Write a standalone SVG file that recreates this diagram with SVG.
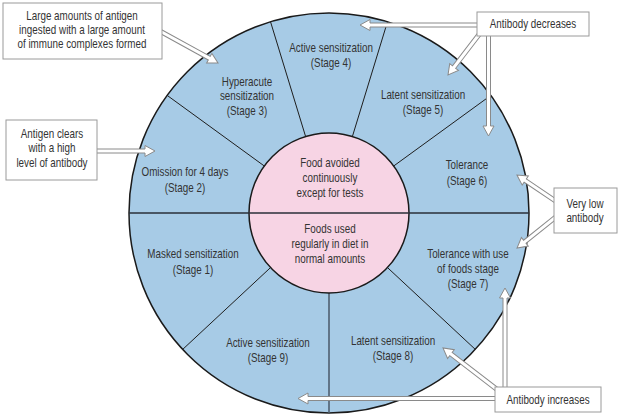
<svg xmlns="http://www.w3.org/2000/svg" width="618" height="414" viewBox="0 0 618 414">
<style>
text{font-family:"Liberation Sans",Arial,sans-serif;font-size:12px;fill:#333;text-anchor:middle}
.spoke{stroke:#1e1e1e;stroke-width:1;fill:none}
.arr{fill:#fff;stroke:#8a8a8a;stroke-width:1}
.box{fill:#fff;stroke:#9a9a9a;stroke-width:1}
</style>
<rect width="618" height="414" fill="#fff"/>
<g id="wheel">
<circle cx="329" cy="213" r="200" fill="#a7cbe6" stroke="#1a1a1a" stroke-width="1.5"/>
<g class="spoke">
<line x1="393.7" y1="166" x2="490.8" y2="95.4"/>
<line x1="264.3" y1="166" x2="167.2" y2="95.4"/>
<line x1="352.4" y1="136.5" x2="387.5" y2="21.7"/>
<line x1="305.6" y1="136.5" x2="270.5" y2="21.7"/>
<line x1="270.5" y1="267.6" x2="182.7" y2="349.4"/>
<line x1="387.5" y1="267.6" x2="475.3" y2="349.4"/>
<line x1="329" y1="293" x2="329" y2="413" stroke="#4a5868" stroke-width="1.5"/>
</g>
<circle cx="329" cy="213" r="80" fill="#f7d4e4" stroke="#1a1a1a" stroke-width="1.5"/>
<line x1="129" y1="213" x2="529" y2="213" stroke="#2a2f38" stroke-width="1.5"/>
</g>
<g id="stage4"><g transform="scale(0.82,1)"><text x="403.7" y="52">Active sensitization</text><text x="403.7" y="67">(Stage 4)</text></g></g>
<g id="stage3"><g transform="scale(0.82,1)"><text x="301.2" y="86">Hyperacute</text><text x="301.2" y="100">sensitization</text><text x="301.2" y="115">(Stage 3)</text></g></g>
<g id="stage5"><g transform="scale(0.82,1)"><text x="515.9" y="99">Latent sensitization</text><text x="515.9" y="114">(Stage 5)</text></g></g>
<g id="stage2"><g transform="scale(0.82,1)"><text x="225.6" y="176">Omission for 4 days</text><text x="225.6" y="192">(Stage 2)</text></g></g>
<g id="stage6"><g transform="scale(0.82,1)"><text x="569.5" y="169">Tolerance</text><text x="569.5" y="185">(Stage 6)</text></g></g>
<g id="avoided"><g transform="scale(0.82,1)"><text x="402.4" y="167">Food avoided</text><text x="402.4" y="182">continuously</text><text x="402.4" y="197">except for tests</text></g></g>
<g id="used"><g transform="scale(0.82,1)"><text x="402.4" y="233">Foods used</text><text x="402.4" y="248">regularly in diet in</text><text x="402.4" y="263">normal amounts</text></g></g>
<g id="stage1"><g transform="scale(0.82,1)"><text x="235.4" y="258">Masked sensitization</text><text x="235.4" y="274">(Stage 1)</text></g></g>
<g id="stage7"><g transform="scale(0.82,1)"><text x="570.7" y="258">Tolerance with use</text><text x="570.7" y="273">of foods stage</text><text x="570.7" y="288">(Stage 7)</text></g></g>
<g id="stage9"><g transform="scale(0.82,1)"><text x="326.8" y="347">Active sensitization</text><text x="326.8" y="362">(Stage 9)</text></g></g>
<g id="stage8"><g transform="scale(0.82,1)"><text x="479.3" y="345">Latent sensitization</text><text x="479.3" y="360">(Stage 8)</text></g></g>
<g id="connectors">
<path class="arr" transform="translate(158,30) rotate(28.81)" d="M0,-2H58.5V-5.5L68.5,0L58.5,5.5V2H0Z"/>
<path class="arr" transform="translate(94,151)" d="M0,-2H51V-5.5L61,0L51,5.5V2H0Z"/>
<path class="arr" transform="translate(480,25) rotate(180)" d="M0,-2H110V-5.5L120,0L110,5.5V2H0Z"/>
<path class="arr" transform="translate(481,32) rotate(127.5)" d="M0,-2H44.2V-5.5L54.2,0L44.2,5.5V2H0Z"/>
<path class="arr" transform="translate(488.5,32) rotate(90)" d="M0,-2H94V-5.5L104,0L94,5.5V2H0Z"/>
<path class="arr" transform="translate(557,202) rotate(214)" d="M0,-2H38.3V-5.5L48.3,0L38.3,5.5V2H0Z"/>
<path class="arr" transform="translate(557,216) rotate(141.34)" d="M0,-2H41.2V-5.5L51.2,0L41.2,5.5V2H0Z"/>
<path class="arr" transform="translate(499,391) rotate(217.52)" d="M0,-2H60.6V-5.5L70.6,0L60.6,5.5V2H0Z"/>
<path class="arr" transform="translate(498,398.5) rotate(180)" d="M0,-2H190V-5.5L200,0L190,5.5V2H0Z"/>
<path class="arr" transform="translate(505,391) rotate(-90)" d="M0,-2H93V-5.5L103,0L93,5.5V2H0Z"/>
</g>
<g id="note-large">
<rect class="box" x="3" y="3" width="159" height="56"/>
<g transform="scale(0.82,1)"><text x="100" y="20">Large amounts of antigen</text><text x="100" y="34">ingested with a large amount</text><text x="100" y="48">of immune complexes formed</text></g>
</g>
<g id="note-clears">
<rect class="box" x="6" y="120" width="91" height="60"/>
<g transform="scale(0.82,1)"><text x="63.4" y="138">Antigen clears</text><text x="63.4" y="152">with a high</text><text x="63.4" y="167">level of antibody</text></g>
</g>
<g id="note-decreases">
<rect class="box" x="477" y="12" width="112" height="24"/>
<g transform="scale(0.82,1)"><text x="650" y="28">Antibody decreases</text></g>
</g>
<g id="note-verylow">
<rect class="box" x="554" y="188" width="63" height="45"/>
<g transform="scale(0.82,1)"><text x="713.4" y="208">Very low</text><text x="713.4" y="222">antibody</text></g>
</g>
<g id="note-increases">
<rect class="box" x="495" y="387" width="106" height="25"/>
<g transform="scale(0.82,1)"><text x="668.3" y="404">Antibody increases</text></g>
</g>
</svg>
